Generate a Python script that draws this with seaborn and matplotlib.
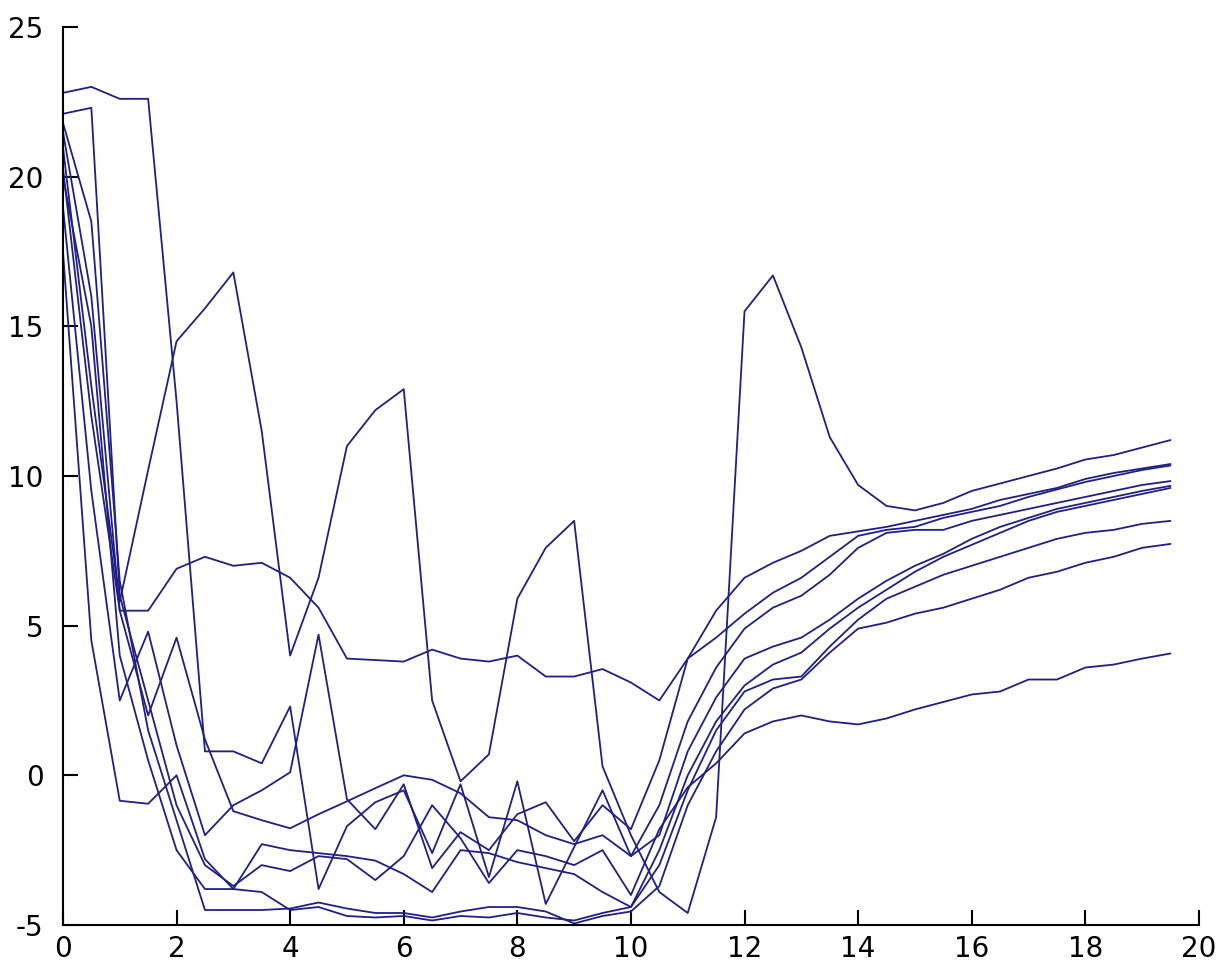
import numpy as np
import pandas as pd
import matplotlib
matplotlib.use("Agg")
import matplotlib.pyplot as plt
import seaborn as sns

x_values = [i * 0.5 for i in range(40)]

series_p = [21.0, 13.0, 5.8, 10.2, 14.5, 15.6, 16.8, 11.5, 4.0, 6.6, 11.0, 12.2, 12.9, 2.5, -0.2, 0.7, 5.9, 7.6, 8.5, 0.3,
            -2.0, -3.9, -4.6, -1.4, 15.5, 16.7, 14.3, 11.3, 9.7, 9.0, 8.85, 9.1, 9.5, 9.75, 10.0, 10.25, 10.55, 10.7, 10.95, 11.2]
series_h = [20.3, 12.0, 5.5, 5.5, 6.9, 7.3, 7.0, 7.1, 6.6, 5.6, 3.9, 3.85, 3.8, 4.2, 3.9, 3.8, 4.0, 3.3, 3.3, 3.55,
            3.1, 2.5, 3.9, 4.6, 5.4, 6.1, 6.6, 7.3, 8.0, 8.2, 8.3, 8.6, 8.8, 9.0, 9.3, 9.55, 9.8, 10.0, 10.2, 10.35]
series_k = [19.0, 9.5, 2.5, 4.8, 1.0, -2.0, -1.0, -0.5, 0.1, 4.7, -0.8, -1.8, -0.3, -3.1, -1.9, -2.5, -1.3, -0.9, -2.2, -1.0,
            -1.8, 0.5, 3.9, 5.5, 6.6, 7.1, 7.5, 8.0, 8.15, 8.3, 8.5, 8.7, 8.9, 9.2, 9.4, 9.6, 9.9, 10.1, 10.25, 10.4]
series_s = [21.5, 16.0, 5.5, 2.0, 4.6, 1.2, -1.2, -1.5, -1.77, -1.3, -0.87, -0.43, 0.0, -0.15, -0.6, -1.4, -1.5, -2.0, -2.3, -2.0,
            -2.7, -1.0, 1.8, 3.6, 4.9, 5.6, 6.0, 6.7, 7.6, 8.1, 8.2, 8.2, 8.5, 8.7, 8.9, 9.1, 9.3, 9.5, 9.7, 9.83]
series_z1 = [22.8, 23.0, 22.6, 22.6, 12.5, 0.8, 0.8, 0.4, 2.3, -3.8, -1.7, -0.9, -0.5, -2.6, -0.3, -3.4, -0.2, -4.3, -2.4, -0.5,
             -2.7, -2.0, 0.8, 2.6, 3.9, 4.3, 4.6, 5.2, 5.9, 6.5, 7.0, 7.4, 7.9, 8.3, 8.6, 8.9, 9.1, 9.3, 9.5, 9.67]
series_b2 = [20.0, 15.0, 4.0, 0.5, -2.5, -3.8, -3.8, -3.9, -4.5, -4.4, -4.7, -4.75, -4.7, -4.85, -4.7, -4.75, -4.6, -4.75, -4.85, -4.6,
             -4.4, -2.5, 0.0, 1.8, 3.0, 3.7, 4.1, 4.9, 5.6, 6.2, 6.8, 7.3, 7.7, 8.1, 8.5, 8.8, 9.0, 9.2, 9.4, 9.6]
series_t = [17.5, 4.5, -0.85, -0.95, 0.0, -2.8, -3.8, -2.3, -2.5, -2.6, -2.7, -2.85, -3.3, -3.9, -2.5, -2.6, -2.9, -3.1, -3.3, -3.9,
            -4.4, -3.0, -0.5, 1.5, 2.8, 3.2, 3.3, 4.3, 5.2, 5.9, 6.3, 6.7, 7.0, 7.3, 7.6, 7.9, 8.1, 8.2, 8.4, 8.5]
series_b1 = [21.8, 18.5, 6.5, 1.5, -1.5, -4.5, -4.5, -4.5, -4.45, -4.25, -4.45, -4.6, -4.6, -4.75, -4.55, -4.4, -4.4, -4.55, -4.95, -4.7,
             -4.55, -3.7, -1.0, 0.8, 2.2, 2.9, 3.2, 4.1, 4.9, 5.1, 5.4, 5.6, 5.9, 6.2, 6.6, 6.8, 7.1, 7.3, 7.6, 7.73]
series_z3 = [22.1, 22.3, 6.0, 2.5, -1.0, -3.0, -3.7, -3.0, -3.2, -2.7, -2.8, -3.5, -2.7, -1.0, -2.1, -3.6, -2.5, -2.7, -3.0, -2.5,
             -4.0, -1.8, -0.4, 0.4, 1.4, 1.8, 2.0, 1.8, 1.7, 1.9, 2.2, 2.45, 2.7, 2.8, 3.2, 3.2, 3.6, 3.7, 3.9, 4.07]

x_ticks = [0, 2, 4, 6, 8, 10, 12, 14, 16, 18, 20]
y_ticks = [-5, 0, 5, 10, 15, 20, 25]

all_series = {"p": series_p, "h": series_h, "k": series_k, "s": series_s, "z1": series_z1,
              "b2": series_b2, "t": series_t, "b1": series_b1, "z3": series_z3}
frames = []
for name, vals in all_series.items():
    frames.append(pd.DataFrame({"x": x_values, "y": vals, "series": name}))
df = pd.concat(frames, ignore_index=True)

sns.set_style("ticks")
plt.rcParams["font.family"] = ["DejaVu Sans"]

fig = plt.figure(figsize=(12.27, 9.71), dpi=100)
ax = fig.add_axes([0.0513, 0.0474, 0.9258, 0.9248])
sns.lineplot(data=df, x="x", y="y", units="series", estimator=None, color="#1f1f85",
             linewidth=1.3, ax=ax, sort=False)

ax.set_xlim(0, 20)
ax.set_ylim(-5, 25)
ax.set_xticks(x_ticks)
ax.set_yticks(y_ticks)
ax.set_xticklabels([str(v) for v in x_ticks])
ax.set_yticklabels([str(v) for v in y_ticks])
ax.set_xlabel("")
ax.set_ylabel("")
for side in ["top", "right"]:
    ax.spines[side].set_visible(False)
for side in ["left", "bottom"]:
    ax.spines[side].set_linewidth(1.5)
    ax.spines[side].set_color("black")
ax.tick_params(axis="both", direction="in", length=11, width=1.5, colors="black", labelsize=20)
ax.tick_params(axis="x", pad=7)
ax.tick_params(axis="y", pad=14)
ax.set_facecolor("white")
fig.patch.set_facecolor("white")
fig.savefig("out.png", dpi=100)
